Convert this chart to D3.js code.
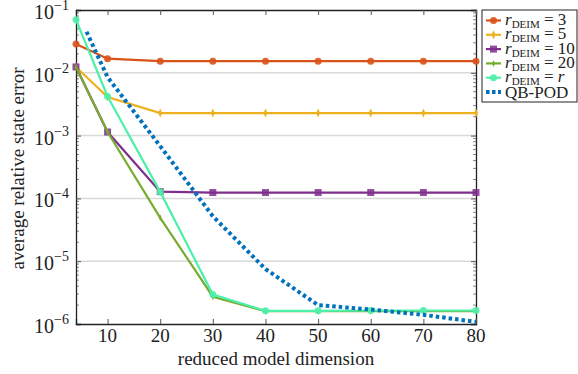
<!DOCTYPE html>
<meta charset="utf-8">
<script src="https://d3js.org/d3.v7.min.js"></script>
<style>
  body { margin: 0; background: #fff; }
</style>
<div id="chart"></div>
<script>

// data
var dims = [4, 10, 20, 30, 40, 50, 60, 70, 80];
var err3 = [0.0288, 0.0168, 0.0153, 0.0153, 0.0153, 0.0153, 0.0153, 0.0153, 0.0153];
var err5 = [0.0124, 0.0041, 0.00228, 0.00228, 0.00228, 0.00228, 0.00228, 0.00228, 0.00228];
var err10 = [0.0124, 0.00114, 1.28e-4, 1.24e-4, 1.24e-4, 1.24e-4, 1.24e-4, 1.24e-4, 1.24e-4];
var err20 = [0.0124, 0.00114, 4.9e-5, 2.72e-6, 1.6e-6, 1.6e-6, 1.6e-6, 1.6e-6, 1.6e-6];
var errR = [0.070, 0.0042, 1.27e-4, 2.95e-6, 1.62e-6, 1.62e-6, 1.64e-6, 1.64e-6, 1.64e-6];
var qbDims = [6, 10, 20, 30, 40, 50, 60, 70, 80];
var qbErr = [0.045, 0.0085, 6.8e-4, 5.2e-5, 7.5e-6, 2.0e-6, 1.7e-6, 1.4e-6, 1.08e-6];

var xTicks = [10, 20, 30, 40, 50, 60, 70, 80];
var yExps = [-6, -5, -4, -3, -2, -1];
var legendSubs = ["3", "5", "10", "20", "r"];

var FONT = "'Liberation Serif', 'DejaVu Serif', serif";

// margin
var margin = {top: 10, right: 102, bottom: 50, left: 76},
    width = 476 - margin.left,
    height = 324 - margin.top;

var svg = d3.select("#chart")
  .append("svg")
    .attr("width", 578)
    .attr("height", 374)
    .attr("font-family", FONT)
  .append("g")
    .attr("transform", "translate(" + margin.left + "," + margin.top + ")");

var x = d3.scaleLinear().domain([4, 80]).range([0, width]);
var y = d3.scaleLog().domain([1e-6, 1e-1]).range([height, 0]);

// grid
svg.append("g")
  .selectAll("line")
  .data(yExps.slice(1, -1))
  .enter().append("line")
    .attr("x1", 0).attr("x2", width)
    .attr("y1", function(d) { return y(Math.pow(10, d)); })
    .attr("y2", function(d) { return y(Math.pow(10, d)); })
    .attr("stroke", "#d9d9d9")
    .attr("stroke-width", 1.5);

// minor ticks
var minors = [];
yExps.slice(0, -1).forEach(function(e) {
  for (var k = 2; k <= 9; k++) minors.push(k * Math.pow(10, e));
});
[0, width].forEach(function(x0, i) {
  svg.append("g")
    .selectAll("line")
    .data(minors)
    .enter().append("line")
      .attr("x1", x0).attr("x2", i == 0 ? x0 + 3 : x0 - 3)
      .attr("y1", function(d) { return y(d); })
      .attr("y2", function(d) { return y(d); })
      .attr("stroke", "#555")
      .attr("stroke-width", 0.7);
});

// axes (ticks inside)
var yMajor = yExps.map(function(e) { return Math.pow(10, e); });
svg.append("g")
  .call(d3.axisLeft(y).tickValues(yMajor).tickSize(-5).tickFormat(""));
svg.append("g")
  .attr("transform", "translate(" + width + ",0)")
  .call(d3.axisRight(y).tickValues(yMajor).tickSize(-5).tickFormat(""));
svg.append("g")
  .attr("transform", "translate(0," + height + ")")
  .call(d3.axisBottom(x).tickValues(xTicks).tickSize(-5).tickFormat(""));
svg.append("g")
  .call(d3.axisTop(x).tickValues(xTicks).tickSize(-5).tickFormat(""));
svg.selectAll(".domain").attr("stroke", "#222").attr("stroke-width", 1.3);
svg.selectAll(".tick line").attr("stroke", "#555");

// tick labels
svg.append("g")
  .selectAll("text")
  .data(xTicks)
  .enter().append("text")
    .attr("x", function(d) { return x(d); })
    .attr("y", height + 18)
    .attr("text-anchor", "middle")
    .attr("fill", "#222")
    .style("font-size", "19px")
    .text(function(d) { return d; });

var yl = svg.append("g")
  .selectAll("text")
  .data(yExps)
  .enter().append("text")
    .attr("x", -7)
    .attr("y", function(d) { return y(Math.pow(10, d)) + 9; })
    .attr("text-anchor", "end")
    .attr("fill", "#222")
    .style("font-size", "20px");
yl.append("tspan").text("10");
yl.append("tspan")
  .attr("dy", -9)
  .style("font-size", "14px")
  .text(function(d) { return "\u2212" + (-d); });

// axis label
svg.append("text")
  .attr("x", width / 2)
  .attr("y", height + 41)
  .attr("text-anchor", "middle")
  .attr("fill", "#222")
  .style("font-size", "19px")
  .text("reduced model dimension");
svg.append("text")
  .attr("transform", "rotate(-90)")
  .attr("x", -158.5)
  .attr("y", -52)
  .attr("text-anchor", "middle")
  .attr("fill", "#222")
  .style("font-size", "19px")
  .text("average relative state error");

// series
var series = [
  {vals: err3, color: "#D95319", marker: "circle"},
  {vals: err5, color: "#EDB120", marker: "diamond"},
  {vals: err10, color: "#7E2F8E", marker: "square"},
  {vals: err20, color: "#77AC30", marker: "small"},
  {vals: errR, color: "#4DF0A8", marker: "circle"}
];

var line = d3.line()
  .x(function(d) { return x(d[0]); })
  .y(function(d) { return y(d[1]); });

function drawMarker(g, kind, color, cx, cy) {
  if (kind == "circle") {
    g.append("circle").attr("cx", cx).attr("cy", cy).attr("r", 3.5)
      .attr("fill", color).attr("fill-opacity", 0.9);
  } else if (kind == "square") {
    g.append("rect").attr("x", cx - 3.5).attr("y", cy - 3.5)
      .attr("width", 7).attr("height", 7)
      .attr("fill", color).attr("fill-opacity", 0.85);
  } else if (kind == "diamond") {
    g.append("path")
      .attr("d", "M" + cx + "," + (cy - 4.5) + "L" + (cx + 2) + "," + cy +
                 "L" + cx + "," + (cy + 4.5) + "L" + (cx - 2) + "," + cy + "Z")
      .attr("fill", color);
  } else {
    g.append("path")
      .attr("d", "M" + cx + "," + (cy - 3.5) + "L" + (cx + 1.5) + "," + cy +
                 "L" + cx + "," + (cy + 3.5) + "L" + (cx - 1.5) + "," + cy + "Z")
      .attr("fill", color);
  }
}

series.forEach(function(s) {
  var pts = dims.map(function(d, i) { return [d, s.vals[i]]; });
  svg.append("path")
    .datum(pts)
    .attr("fill", "none")
    .attr("stroke", s.color)
    .attr("stroke-width", 2.2)
    .attr("d", line);
  var g = svg.append("g");
  pts.forEach(function(p) { drawMarker(g, s.marker, s.color, x(p[0]), y(p[1])); });
});

var qbPts = qbDims.map(function(d, i) { return [d, qbErr[i]]; });
svg.append("path")
  .datum(qbPts)
  .attr("fill", "none")
  .attr("stroke", "#0072BD")
  .attr("stroke-width", 4)
  .attr("stroke-dasharray", "3.5,3")
  .attr("d", line);

// legend
var lg = svg.append("g").attr("transform", "translate(" + (width + 6) + ",0)");
lg.append("rect")
  .attr("x", 0).attr("y", 0)
  .attr("width", 95).attr("height", 92)
  .attr("fill", "#fff")
  .attr("stroke", "#222")
  .attr("stroke-width", 1);

var items = series.concat([{color: "#0072BD", marker: "dots"}]);
items.forEach(function(s, i) {
  var yy = 10.5 + i * 14.3;
  if (s.marker == "dots") {
    lg.append("line").attr("x1", 4).attr("x2", 19).attr("y1", yy).attr("y2", yy)
      .attr("stroke", s.color).attr("stroke-width", 4).attr("stroke-dasharray", "3.5,2.5");
    lg.append("text").attr("x", 23).attr("y", yy + 5.5).attr("fill", "#222")
      .style("font-size", "17px").text("QB-POD");
  } else {
    lg.append("line").attr("x1", 4).attr("x2", 19).attr("y1", yy).attr("y2", yy)
      .attr("stroke", s.color).attr("stroke-width", 2.2);
    drawMarker(lg, s.marker, s.color, 11.5, yy);
    var t = lg.append("text").attr("x", 23).attr("y", yy + 4.5).attr("fill", "#222")
      .style("font-size", "17px");
    t.append("tspan").style("font-style", "italic").text("r");
    t.append("tspan").attr("dy", 3).style("font-size", "11px").text("DEIM");
    t.append("tspan").attr("dy", -3).text(" = ");
    var v = t.append("tspan").text(legendSubs[i]);
    if (legendSubs[i] == "r") v.style("font-style", "italic");
  }
});

</script>
